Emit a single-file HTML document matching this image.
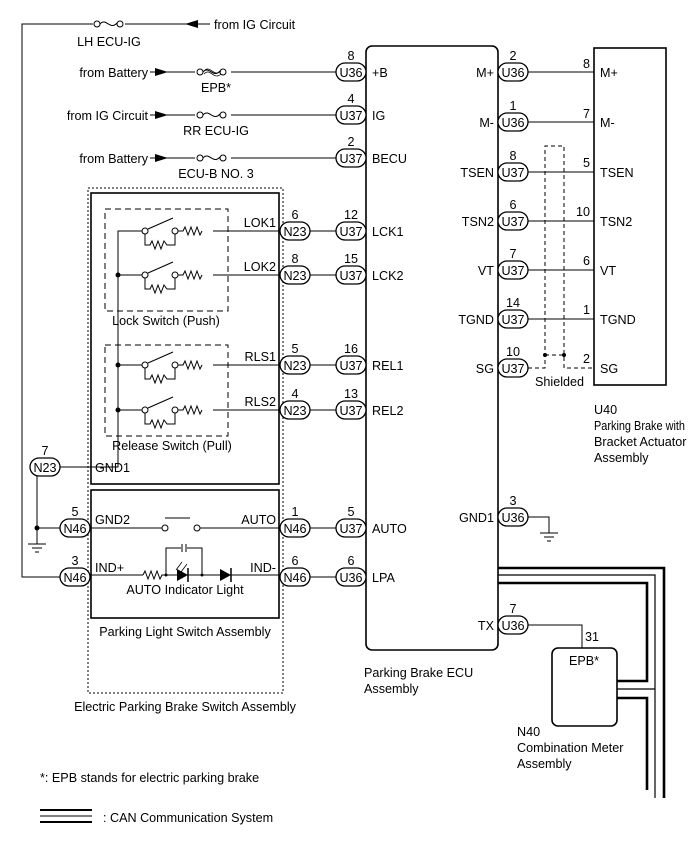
<!DOCTYPE html>
<html><head><meta charset="utf-8"><style>
html,body{margin:0;padding:0;background:#fff}
svg text{font-family:"Liberation Sans",Arial,sans-serif;font-size:12.6px;fill:#000}
</style></head><body>
<svg width="690" height="853" viewBox="0 0 690 853" xmlns="http://www.w3.org/2000/svg">
<defs>
<g id="fuse"><circle cx="0" cy="0" r="3" fill="#fff" stroke="#000"/><path d="M3,0 C9,-7 13,7 20,-1" fill="none" stroke="#000"/><circle cx="23" cy="0" r="3" fill="#fff" stroke="#000"/></g>
<g id="sw" fill="none" stroke="#000">
<circle cx="0" cy="0" r="3" fill="#fff"/><line x1="3" y1="-2" x2="28" y2="-13"/><circle cx="30" cy="0" r="3" fill="#fff"/>
<path d="M33,0 H38 l2,-4 l3,8 l3,-8 l3,8 l3,-8 l3,8 l2,-4"/>
<path d="M0,3 V14 H5 l2,-4 l3,8 l3,-8 l3,8 l3,-8 l3,4 H30 V3"/>
</g>
<g id="gnd" stroke="#000"><line x1="-9" y1="0" x2="9" y2="0"/><line x1="-5" y1="4" x2="5" y2="4"/><line x1="-2" y1="8" x2="2" y2="8"/></g>
</defs>
<g fill="none" stroke="#000" stroke-width="1">
<path d="M210,24 H22 V577 H60"/>
<line x1="165" y1="72" x2="336" y2="72"/>
<line x1="165" y1="115" x2="336" y2="115"/>
<line x1="165" y1="158" x2="336" y2="158"/>
<rect x="366" y="46" width="132" height="604" rx="6" stroke-width="1.6"/>
<rect x="594" y="48" width="72" height="337" stroke-width="1.6"/>
<line x1="528" y1="72" x2="594" y2="72"/>
<line x1="528" y1="122" x2="594" y2="122"/>
<line x1="528" y1="172" x2="594" y2="172"/>
<line x1="528" y1="221" x2="594" y2="221"/>
<line x1="528" y1="270" x2="594" y2="270"/>
<line x1="528" y1="319" x2="594" y2="319"/>
<path d="M528,368 H545 V146 H564 V368 H594" stroke-dasharray="4,3"/>
<line x1="545" y1="355" x2="564" y2="355" stroke-dasharray="4,3"/>
<path d="M528,517 H549 V533"/>
<path d="M528,625 H582 V648"/>
<rect x="552" y="648" width="65" height="78" rx="6" stroke-width="1.6"/>
<path d="M498,568 H664 V798" stroke-width="2.6"/>
<path d="M498,575 H655 V798" stroke-width="1.2"/>
<path d="M498,583 H647 V681 H617" stroke-width="2.6"/>
<path d="M617,689 H655" stroke-width="1.2"/>
<path d="M617,698 H647 V790" stroke-width="2.6"/>
<rect x="88" y="188" width="195" height="505" stroke-dasharray="2,2"/>
<rect x="91" y="193" width="188" height="291" stroke-width="1.6"/>
<rect x="91" y="490" width="188" height="128" stroke-width="1.6"/>
<rect x="105" y="209" width="123" height="102" stroke-dasharray="6,4"/>
<rect x="105" y="345" width="123" height="91" stroke-dasharray="6,4"/>
<path d="M145,231 H118 V467 H60"/>
<line x1="118" y1="275" x2="145" y2="275"/>
<line x1="118" y1="365" x2="145" y2="365"/>
<line x1="118" y1="410" x2="145" y2="410"/>
<line x1="213" y1="231" x2="280" y2="231"/>
<line x1="213" y1="275" x2="280" y2="275"/>
<line x1="213" y1="365" x2="280" y2="365"/>
<line x1="213" y1="410" x2="280" y2="410"/>
<line x1="310" y1="231" x2="336" y2="231"/>
<line x1="310" y1="275" x2="336" y2="275"/>
<line x1="310" y1="365" x2="336" y2="365"/>
<line x1="310" y1="410" x2="336" y2="410"/>
<line x1="310" y1="528" x2="336" y2="528"/>
<line x1="310" y1="577" x2="336" y2="577"/>
<path d="M30,467 H37 V544"/>
<line x1="37" y1="528" x2="60" y2="528"/>
<line x1="90" y1="528" x2="162" y2="528"/>
<circle cx="165" cy="528" r="3"/><circle cx="197" cy="528" r="3"/>
<line x1="165" y1="518" x2="190" y2="518"/>
<line x1="200" y1="528" x2="280" y2="528"/>
<line x1="90" y1="575" x2="143" y2="575"/>
<path d="M143,575 l2,-4 l3,8 l3,-8 l3,8 l3,-8 l3,8 l2,-4 H280"/>
<path d="M166,575 V548 H202 V575"/>
<path d="M176,570 l6,-8 M181,572 l6,-8" stroke-width="0.8"/>
</g>
<rect x="181" y="545" width="6" height="6" fill="#fff"/>
<line x1="182" y1="544" x2="182" y2="552" stroke="#000"/><line x1="186" y1="544" x2="186" y2="552" stroke="#000"/>
<polygon points="177,569 177,581 188,575" fill="#000"/><line x1="188" y1="568" x2="188" y2="582" stroke="#000" stroke-width="1.5"/>
<polygon points="220,569 220,581 231,575" fill="#000"/><line x1="231" y1="568" x2="231" y2="582" stroke="#000" stroke-width="1.5"/>
<circle cx="166" cy="575" r="1.5"/><circle cx="202" cy="575" r="1.5"/>
<rect x="93" y="18" width="32" height="12" fill="#fff"/><use href="#fuse" x="97" y="24"/>
<rect x="195" y="66" width="36" height="12" fill="#fff"/><use href="#fuse" x="200" y="72"/>
<path d="M204,71 C210,64 214,78 221,71 M204,74 C210,67 214,81 221,74" fill="none" stroke="#000" stroke-width="0.7"/>
<rect x="195" y="109" width="36" height="12" fill="#fff"/><use href="#fuse" x="200" y="115"/>
<rect x="195" y="152" width="36" height="12" fill="#fff"/><use href="#fuse" x="200" y="158"/>
<polygon points="185,24 198,20 198,28"/>
<polygon points="168,72 155,68 155,76"/><line x1="150" y1="72" x2="155" y2="72" stroke="#000"/>
<polygon points="168,115 155,111 155,119"/><line x1="150" y1="115" x2="155" y2="115" stroke="#000"/>
<polygon points="168,158 155,154 155,162"/><line x1="150" y1="158" x2="155" y2="158" stroke="#000"/>
<use href="#sw" x="145" y="231"/><use href="#sw" x="145" y="275"/>
<use href="#sw" x="145" y="365"/><use href="#sw" x="145" y="410"/>
<g fill="#000"><circle cx="118" cy="275" r="2.5"/><circle cx="118" cy="365" r="2.5"/><circle cx="118" cy="410" r="2.5"/><circle cx="37" cy="528" r="2.5"/><circle cx="545" cy="355" r="2"/><circle cx="564" cy="355" r="2"/></g>
<use href="#gnd" x="37" y="544"/><use href="#gnd" x="549" y="533"/>
<g fill="#fff" stroke="#000" stroke-width="1.3">
<rect x="336" y="63" width="30" height="18" rx="9"/><rect x="336" y="106" width="30" height="18" rx="9"/><rect x="336" y="149" width="30" height="18" rx="9"/>
<rect x="336" y="222" width="30" height="18" rx="9"/><rect x="336" y="266" width="30" height="18" rx="9"/><rect x="336" y="356" width="30" height="18" rx="9"/><rect x="336" y="401" width="30" height="18" rx="9"/>
<rect x="336" y="519" width="30" height="18" rx="9"/><rect x="336" y="568" width="30" height="18" rx="9"/>
<rect x="280" y="222" width="30" height="18" rx="9"/><rect x="280" y="266" width="30" height="18" rx="9"/><rect x="280" y="356" width="30" height="18" rx="9"/><rect x="280" y="401" width="30" height="18" rx="9"/>
<rect x="280" y="519" width="30" height="18" rx="9"/><rect x="280" y="568" width="30" height="18" rx="9"/>
<rect x="30" y="458" width="30" height="18" rx="9"/><rect x="60" y="519" width="30" height="18" rx="9"/><rect x="60" y="568" width="30" height="18" rx="9"/>
<rect x="498" y="63" width="30" height="18" rx="9"/><rect x="498" y="113" width="30" height="18" rx="9"/><rect x="498" y="163" width="30" height="18" rx="9"/><rect x="498" y="212" width="30" height="18" rx="9"/><rect x="498" y="261" width="30" height="18" rx="9"/><rect x="498" y="310" width="30" height="18" rx="9"/><rect x="498" y="359" width="30" height="18" rx="9"/><rect x="498" y="508" width="30" height="18" rx="9"/><rect x="498" y="616" width="30" height="18" rx="9"/>
</g>
<g text-anchor="middle">
<text x="351" y="77">U36</text><text x="351" y="120">U37</text><text x="351" y="163">U37</text><text x="351" y="236">U37</text><text x="351" y="280">U37</text><text x="351" y="370">U37</text><text x="351" y="415">U37</text><text x="351" y="533">U37</text><text x="351" y="582">U36</text>
<text x="351" y="60">8</text><text x="351" y="103">4</text><text x="351" y="146">2</text><text x="351" y="219">12</text><text x="351" y="263">15</text><text x="351" y="353">16</text><text x="351" y="398">13</text><text x="351" y="516">5</text><text x="351" y="565">6</text>
<text x="295" y="236">N23</text><text x="295" y="280">N23</text><text x="295" y="370">N23</text><text x="295" y="415">N23</text><text x="295" y="533">N46</text><text x="295" y="582">N46</text>
<text x="295" y="219">6</text><text x="295" y="263">8</text><text x="295" y="353">5</text><text x="295" y="398">4</text><text x="295" y="516">1</text><text x="295" y="565">6</text>
<text x="45" y="472">N23</text><text x="75" y="533">N46</text><text x="75" y="582">N46</text>
<text x="45" y="455">7</text><text x="75" y="516">5</text><text x="75" y="565">3</text>
<text x="513" y="77">U36</text><text x="513" y="127">U36</text><text x="513" y="177">U37</text><text x="513" y="226">U37</text><text x="513" y="275">U37</text><text x="513" y="324">U37</text><text x="513" y="373">U37</text><text x="513" y="522">U36</text><text x="513" y="630">U36</text>
<text x="513" y="60">2</text><text x="513" y="110">1</text><text x="513" y="160">8</text><text x="513" y="209">6</text><text x="513" y="258">7</text><text x="513" y="307">14</text><text x="513" y="356">10</text><text x="513" y="505">3</text><text x="513" y="613">7</text>
<text x="166" y="325">Lock Switch (Push)</text><text x="172" y="450">Release Switch (Pull)</text>
<text x="185" y="594">AUTO Indicator Light</text><text x="185" y="636">Parking Light Switch Assembly</text>
<text x="185" y="711">Electric Parking Brake Switch Assembly</text>
<text x="109" y="46">LH ECU-IG</text><text x="216" y="92">EPB*</text><text x="216" y="135">RR ECU-IG</text><text x="216" y="178">ECU-B NO. 3</text>
<text x="584" y="665">EPB*</text>
</g>
<g text-anchor="end">
<text x="148" y="77">from Battery</text><text x="148" y="120">from IG Circuit</text><text x="148" y="163">from Battery</text>
<text x="276" y="227">LOK1</text><text x="276" y="271">LOK2</text><text x="276" y="361">RLS1</text><text x="276" y="406">RLS2</text>
<text x="276" y="524">AUTO</text><text x="276" y="572">IND-</text>
<text x="494" y="77">M+</text><text x="494" y="127">M-</text><text x="494" y="177">TSEN</text><text x="494" y="226">TSN2</text><text x="494" y="275">VT</text><text x="494" y="324">TGND</text><text x="494" y="373">SG</text><text x="494" y="522">GND1</text><text x="494" y="630">TX</text>
<text x="590" y="68">8</text><text x="590" y="118">7</text><text x="590" y="167">5</text><text x="590" y="216">10</text><text x="590" y="265">6</text><text x="590" y="314">1</text><text x="590" y="363">2</text>
</g>
<text x="214" y="29">from IG Circuit</text>
<text x="95" y="472">GND1</text><text x="95" y="524">GND2</text><text x="95" y="572">IND+</text>
<text x="372" y="77">+B</text><text x="372" y="120">IG</text><text x="372" y="163">BECU</text><text x="372" y="236">LCK1</text><text x="372" y="280">LCK2</text><text x="372" y="370">REL1</text><text x="372" y="415">REL2</text><text x="372" y="533">AUTO</text><text x="372" y="582">LPA</text>
<text x="600" y="77">M+</text><text x="600" y="127">M-</text><text x="600" y="177">TSEN</text><text x="600" y="226">TSN2</text><text x="600" y="275">VT</text><text x="600" y="324">TGND</text><text x="600" y="373">SG</text>
<text x="535" y="386">Shielded</text>
<text x="585" y="641">31</text>
<text x="594" y="414">U40</text><text x="594" y="430" textLength="91" lengthAdjust="spacingAndGlyphs">Parking Brake with</text><text x="594" y="446">Bracket Actuator</text><text x="594" y="462">Assembly</text>
<text x="364" y="677">Parking Brake ECU</text><text x="364" y="693">Assembly</text>
<text x="517" y="736">N40</text><text x="517" y="752">Combination Meter</text><text x="517" y="768">Assembly</text>
<text x="40" y="782">*: EPB stands for electric parking brake</text>
<text x="103" y="822">: CAN Communication System</text>
<line x1="40" y1="810" x2="92" y2="810" stroke="#000" stroke-width="2"/>
<line x1="40" y1="816" x2="92" y2="816" stroke="#000" stroke-width="1"/>
<line x1="40" y1="822" x2="92" y2="822" stroke="#000" stroke-width="2"/>
</svg>
</body></html>
